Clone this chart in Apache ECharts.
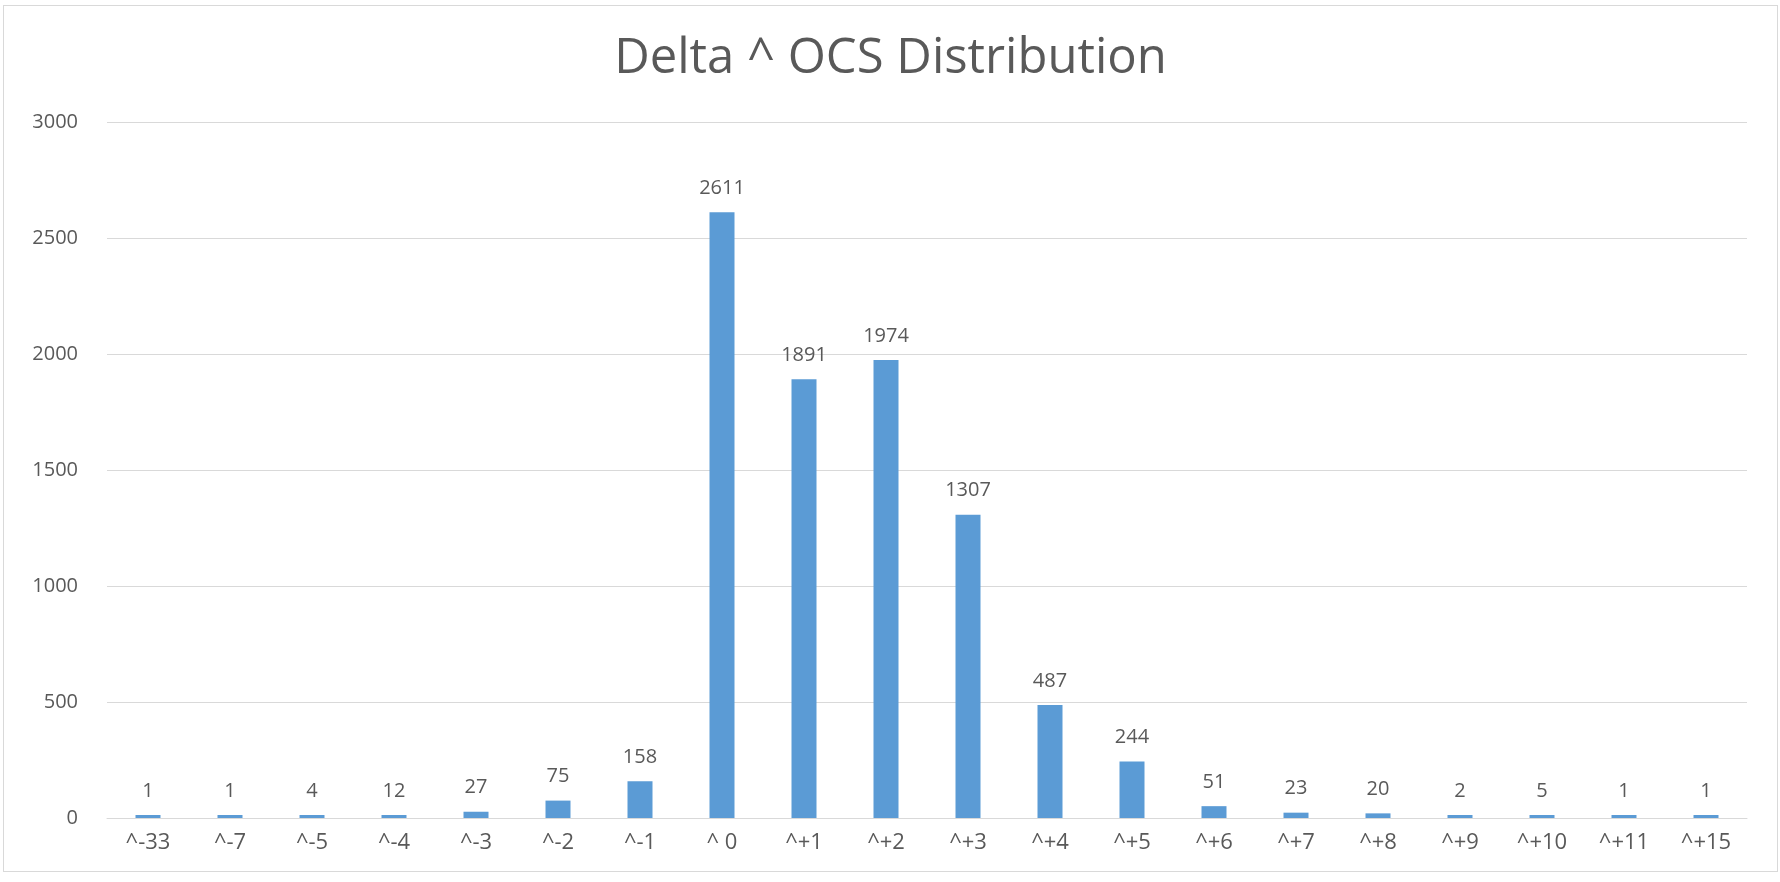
<!DOCTYPE html>
<html style="height: 100%">
<head>
    <meta charset="utf-8">
    <style>
        html, body {
            height: 100%;
            margin: 0;
            overflow: hidden;
            background: #fff;
        }
        #container {
            position: absolute;
            left: 3px;
            top: 5px;
            right: 2px;
            bottom: 10px;
            border: 1px solid #d9d9d9;
        }
    </style>
    <title>Delta ^ OCS Distribution</title>
</head>
<body>
<div id="container"></div>
<script src="https://cdn.jsdelivr.net/npm/echarts@6/dist/echarts.min.js"></script>
<script type="text/javascript">
// categories and counts
var categories = ['^-33', '^-7', '^-5', '^-4', '^-3', '^-2', '^-1', '^ 0', '^+1', '^+2',
                  '^+3', '^+4', '^+5', '^+6', '^+7', '^+8', '^+9', '^+10', '^+11', '^+15'];
var counts = [1, 1, 4, 12, 27, 75, 158, 2611, 1891, 1974,
              1307, 487, 244, 51, 23, 20, 2, 5, 1, 1];
var yTicks = [0, 500, 1000, 1500, 2000, 2500, 3000];

var textColor = '#595959';
var font = '"Open Sans", "Noto Sans", sans-serif';

var myChart = echarts.init(document.getElementById('container'));
var option = {
    animation: false,
    title: {
        text: 'Delta ^ OCS Distribution',
        left: 'center',
        top: 24,
        textStyle: {
            color: textColor,
            fontFamily: font,
            fontWeight: 'normal',
            fontSize: 49
        }
    },
    grid: {
        left: 103,
        right: 30,
        top: 116,
        bottom: 53
    },
    xAxis: {
        type: 'category',
        data: categories,
        axisTick: { show: false },
        axisLine: { lineStyle: { color: '#d9d9d9', width: 1 } },
        axisLabel: {
            color: textColor,
            fontFamily: font,
            fontSize: 22,
            margin: 14
        }
    },
    yAxis: {
        type: 'value',
        min: yTicks[0],
        max: yTicks[yTicks.length - 1],
        interval: 500,
        axisLine: { show: false },
        axisTick: { show: false },
        splitLine: { lineStyle: { color: '#d9d9d9', width: 1 } },
        axisLabel: {
            color: textColor,
            fontFamily: font,
            fontSize: 20,
            margin: 29,
            formatter: function (v) { return String(v); }
        }
    },
    series: [{
        type: 'bar',
        data: counts,
        barWidth: 25,
        barMinHeight: 3,
        itemStyle: { color: '#5B9BD5' },
        label: {
            show: true,
            position: 'top',
            distance: 14,
            color: textColor,
            fontFamily: font,
            fontSize: 20
        }
    }]
};
myChart.setOption(option);
window.addEventListener('resize', function () {
    myChart.resize();
});
</script>
</body>
</html>
